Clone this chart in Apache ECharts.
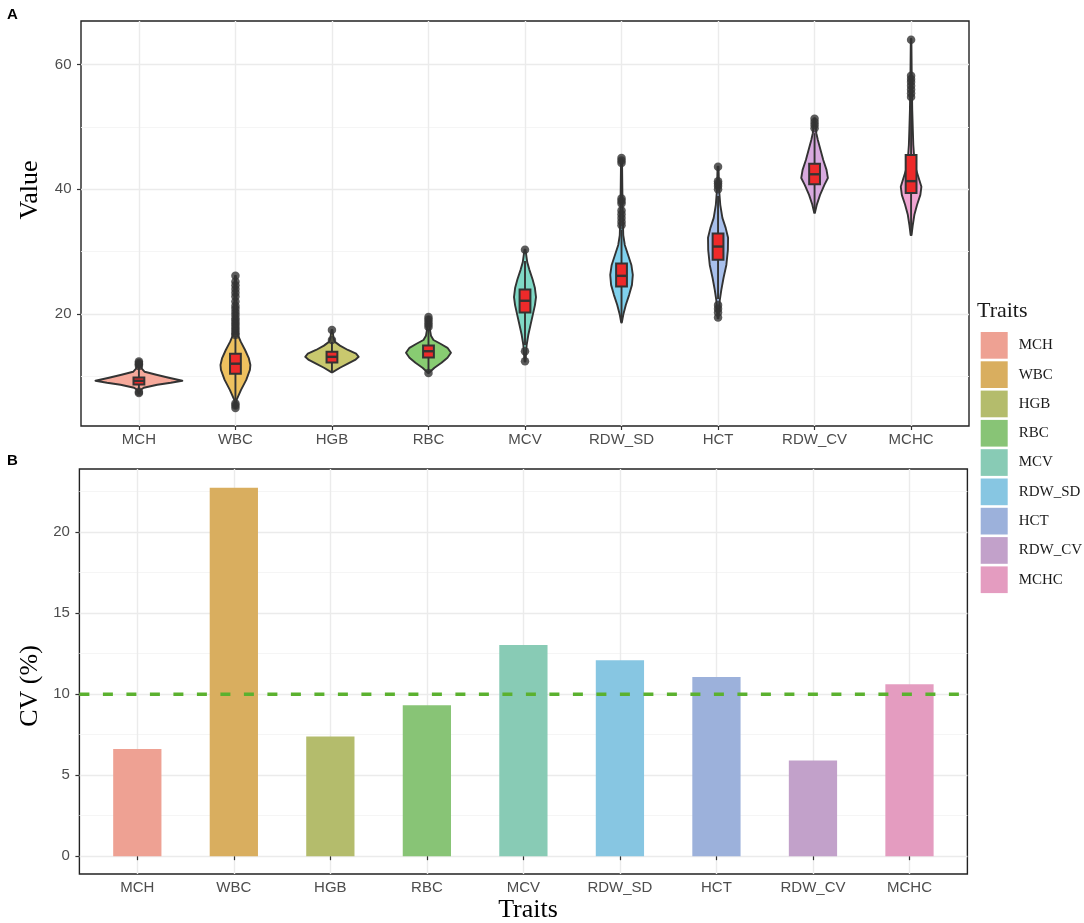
<!DOCTYPE html>
<html><head><meta charset="utf-8">
<script src="https://cdn.jsdelivr.net/npm/echarts@6/dist/echarts.min.js"></script>
<style>html,body{margin:0;padding:0;background:#fff}#c{width:1084px;height:923px}</style>
</head><body><div id="c"></div>
<script>
// ---------- data ----------
const traits = ['MCH','WBC','HGB','RBC','MCV','RDW_SD','HCT','RDW_CV','MCHC'];
const cvPercent = [6.61, 22.75, 7.38, 9.32, 13.03, 12.1, 11.06, 5.91, 10.61];
const cvThreshold = 10;

const barColors = ['#EEA193','#D9AE5F','#B4BC6C','#88C476','#88CBB5','#87C6E2','#9CB1DB','#C2A1CA','#E49CC0'];
const violinColors = ['#F6A99B','#EEC15F','#C9C86E','#88CC72','#7FD9C6','#80D2EE','#A8C0EC','#D8AADF','#F0A5D2'];

// violin outlines: [value, half width in category units]
const violinMCH = [[7.3,0.005],[7.82,0.02],[8.14,0.05],[8.62,0.19],[8.94,0.33],[9.26,0.45],[9.74,0.31],[10.22,0.18],[10.7,0.06],[11.2,0.03],[12.0,0.015],[12.36,0.005]];
const violinWBC = [[4.9,0.005],[6.2,0.012],[7.8,0.058],[9.4,0.112],[11.0,0.15],[11.8,0.155],[12.9,0.138],[14.2,0.1],[15.5,0.056],[16.5,0.028],[19.0,0.017],[22.2,0.011],[26.1,0.005]];
const violinHGB = [[10.6,0.003],[11.35,0.083],[12.0,0.165],[12.6,0.24],[13.1,0.277],[13.6,0.25],[14.2,0.165],[14.9,0.083],[15.5,0.031],[16.15,0.016],[17.4,0.005]];
const violinRBC = [[10.5,0.003],[11.35,0.062],[12.15,0.135],[12.95,0.197],[13.75,0.233],[14.55,0.197],[15.2,0.124],[15.8,0.052],[16.5,0.026],[17.4,0.016],[19.5,0.005]];
const violinMCV = [[12.36,0.005],[15.0,0.017],[16.6,0.034],[18.2,0.057],[19.8,0.08],[21.4,0.103],[22.7,0.114],[24.2,0.102],[25.5,0.079],[27.1,0.045],[28.3,0.023],[30.3,0.005]];
const violinRDW_SD = [[18.6,0.003],[19.85,0.018],[21.45,0.045],[23.05,0.079],[24.65,0.108],[26.25,0.117],[27.85,0.102],[29.45,0.068],[31.05,0.034],[32.65,0.018],[36.7,0.011],[44.9,0.005]];
const violinHCT = [[19.3,0.005],[22.2,0.018],[23.85,0.034],[25.8,0.057],[27.85,0.086],[30.25,0.102],[32.2,0.104],[33.8,0.079],[35.4,0.045],[37.5,0.023],[39.9,0.011],[43.6,0.005]];
const violinRDW_CV = [[36.2,0.003],[37.5,0.023],[39.1,0.057],[40.7,0.102],[41.8,0.138],[43.1,0.124],[44.7,0.09],[46.3,0.062],[47.9,0.034],[49.0,0.018],[51.4,0.005]];
const violinMCHC = [[32.66,0.005],[34.3,0.018],[35.9,0.034],[37.5,0.062],[39.1,0.096],[40.4,0.107],[41.8,0.079],[43.1,0.052],[44.7,0.034],[47.1,0.023],[49.5,0.018],[52.7,0.012],[55.9,0.009],[59.1,0.006],[64.1,0.003]];

// box stats: [lower whisker, Q1, median, Q3, upper whisker]
const boxMCH = [7.9, 8.65, 9.25, 9.8, 11.5];
const boxWBC = [6.2, 10.4, 12.0, 13.6, 16.4];
const boxHGB = [10.7, 12.2, 13.1, 13.9, 15.5];
const boxRBC = [10.5, 13.0, 14.0, 14.9, 17.6];
const boxMCV = [15.0, 20.2, 22.1, 23.9, 28.5];
const boxRDW_SD = [18.7, 24.4, 26.1, 28.1, 33.5];
const boxHCT = [22.4, 28.7, 30.8, 32.9, 38.9];
const boxRDW_CV = [36.3, 40.8, 42.4, 44.1, 49.0];
const boxMCHC = [32.7, 39.4, 41.3, 45.5, 54.3];

// outliers
const outMCH = [11.65, 11.9, 12.1, 12.35, 7.3, 7.5];
const outWBC = [16.6, 16.9, 17.3, 17.7, 18.1, 18.5, 18.9, 19.3, 19.8, 20.3, 20.8, 21.3, 22.0, 22.8, 23.4, 24.0, 24.6, 25.2, 26.1, 4.9, 5.3, 5.6];
const outHGB = [15.8, 17.4];
const outRBC = [17.9, 18.3, 18.7, 19.1, 19.5, 10.5];
const outMCV = [30.3, 14.0, 12.4];
const outRDW_SD = [34.2, 34.8, 35.4, 36.0, 36.6, 37.7, 38.1, 38.5, 44.2, 44.6, 45.0];
const outHCT = [40.0, 40.5, 40.9, 41.3, 43.6, 21.4, 20.8, 20.2, 19.4];
const outRDW_CV = [49.8, 50.3, 50.8, 51.3];
const outMCHC = [54.8, 55.4, 56.0, 56.6, 57.2, 57.7, 58.2, 64.0];

const yTicksA = [20, 40, 60];
const yMinorA = [10, 30, 50];
const yTicksB = [0, 5, 10, 15, 20];
const yMinorB = [2.5, 7.5, 12.5, 17.5, 22.5];

// ---------- assemble ----------
const violins = [violinMCH, violinWBC, violinHGB, violinRBC, violinMCV, violinRDW_SD, violinHCT, violinRDW_CV, violinMCHC];
const boxes = [boxMCH, boxWBC, boxHGB, boxRBC, boxMCV, boxRDW_SD, boxHCT, boxRDW_CV, boxMCHC];
const outs = [outMCH, outWBC, outHGB, outRBC, outMCV, outRDW_SD, outHCT, outRDW_CV, outMCHC];
const xPos = traits.map((t, i) => i + 1);
const outlierData = [];
outs.forEach((arr, i) => arr.forEach(v => outlierData.push([i + 1, v])));

const INK = '#333333';
const tickFont = {fontFamily: 'Liberation Sans, Arial, sans-serif', fontSize: 15, color: '#4D4D4D'};
const serif = 'Liberation Serif, Times New Roman, serif';

function xAxisDef(gridIndex) {
  return {
    type: 'value', gridIndex, min: 0.4, max: 9.6,
    axisLine: {show: false},
    axisTick: {show: true, length: 4, lineStyle: {color: INK, width: 1.2}, customValues: xPos},
    axisLabel: Object.assign({customValues: xPos, margin: 6, formatter: v => traits[Math.round(v) - 1] || ''}, tickFont),
    splitLine: {show: true, lineStyle: {color: '#EBEBEB', width: 1.4}}
  };
}
function yMajor(gridIndex, min, max, ticks) {
  return {
    type: 'value', gridIndex, min, max, position: 'left',
    axisLine: {show: false},
    axisTick: {show: true, length: 4, lineStyle: {color: INK, width: 1.2}, customValues: ticks},
    axisLabel: Object.assign({customValues: ticks, margin: 9.5}, tickFont),
    splitLine: {show: true, lineStyle: {color: '#EBEBEB', width: 1.4}}
  };
}
function yMinor(gridIndex, min, max, ticks) {
  return {
    type: 'value', gridIndex, min, max, position: 'right',
    axisLine: {show: false},
    axisTick: {show: false, customValues: ticks},
    axisLabel: {show: false},
    splitLine: {show: true, lineStyle: {color: '#F4F4F4', width: 0.9}}
  };
}

const chart = echarts.init(document.getElementById('c'), null, {renderer: 'canvas'});

const barSeries = traits.map((t, i) => ({
  type: 'custom', name: t, xAxisIndex: 1, yAxisIndex: 2,
  itemStyle: {color: barColors[i]},
  data: [[xPos[i], cvPercent[i]]],
  renderItem: (params, api) => {
    const x = api.value(0), v = api.value(1);
    const a = api.coord([x - 0.25, v]), b = api.coord([x + 0.25, 0]);
    return {type: 'rect', shape: {x: a[0], y: a[1], width: b[0] - a[0], height: b[1] - a[1]}, style: api.style()};
  }
}));

const option = {
  animation: false,
  backgroundColor: '#ffffff',
  grid: [
    {left: 81, top: 21, width: 888, height: 405, show: true, borderColor: '#222', borderWidth: 1.4, backgroundColor: '#fff', containLabel: false, outerBoundsMode: 'none'},
    {left: 79.4, top: 469, width: 888, height: 405, show: true, borderColor: '#222', borderWidth: 1.4, backgroundColor: '#fff', containLabel: false, outerBoundsMode: 'none'}
  ],
  xAxis: [xAxisDef(0), xAxisDef(1)],
  yAxis: [
    yMajor(0, 2.0, 67.0, yTicksA), yMinor(0, 2.0, 67.0, yMinorA),
    yMajor(1, -1.1, 23.9, yTicksB), yMinor(1, -1.1, 23.9, yMinorB)
  ],
  legend: {
    data: traits, orient: 'vertical', left: 980.7, top: 332,
    itemWidth: 27, itemHeight: 26.7, itemGap: 2.6, icon: 'rect', padding: 0,
    selectedMode: false,
    textStyle: {fontFamily: serif, fontSize: 15, color: '#1A1A1A', padding: [0, 0, 0, 6]}
  },
  graphic: [
    {type: 'text', left: 7, top: 7, style: {text: 'A', font: 'bold 15px Liberation Sans, Arial, sans-serif', fill: '#000'}},
    {type: 'text', left: 7, top: 453.5, style: {text: 'B', font: 'bold 15px Liberation Sans, Arial, sans-serif', fill: '#000'}},
    {type: 'text', left: 977, top: 300, style: {text: 'Traits', font: '22px ' + serif, fill: '#1A1A1A'}},
    {type: 'text', x: 30, y: 190, rotation: Math.PI / 2, style: {text: 'Value', font: '26px ' + serif, fill: '#000', align: 'center', verticalAlign: 'middle'}},
    {type: 'text', x: 30, y: 686, rotation: Math.PI / 2, style: {text: 'CV (%)', font: '26px ' + serif, fill: '#000', align: 'center', verticalAlign: 'middle'}},
    {type: 'text', x: 528, y: 897, style: {text: 'Traits', font: '26px ' + serif, fill: '#000', align: 'center', verticalAlign: 'top'}}
  ],
  series: barSeries.concat([
    {
      type: 'custom', name: 'violin', xAxisIndex: 0, yAxisIndex: 0,
      data: xPos.map(x => [x]),
      renderItem: (params, api) => {
        const i = params.dataIndex;
        const x = api.value(0);
        const prof = violins[i];
        const leftSide = prof.map(p => api.coord([x - p[1], p[0]]));
        const rightSide = prof.slice().reverse().map(p => api.coord([x + p[1], p[0]]));
        const b = boxes[i];
        const bw = 0.056;
        const lo = api.coord([x, b[0]]), q1 = api.coord([x, b[1]]), q3 = api.coord([x, b[3]]), hi = api.coord([x, b[4]]);
        const bl = api.coord([x - bw, b[3]]), br = api.coord([x + bw, b[1]]);
        const ml = api.coord([x - bw, b[2]]), mr = api.coord([x + bw, b[2]]);
        return {type: 'group', children: [
          {type: 'polygon', shape: {points: leftSide.concat(rightSide)}, style: {fill: violinColors[i], stroke: INK, lineWidth: 1.9, lineJoin: 'round'}},
          {type: 'line', shape: {x1: lo[0], y1: lo[1], x2: q1[0], y2: q1[1]}, style: {stroke: INK, lineWidth: 1.9}},
          {type: 'line', shape: {x1: q3[0], y1: q3[1], x2: hi[0], y2: hi[1]}, style: {stroke: INK, lineWidth: 1.9}},
          {type: 'rect', shape: {x: bl[0], y: bl[1], width: br[0] - bl[0], height: br[1] - bl[1]}, style: {fill: '#EE2A2A', stroke: INK, lineWidth: 2}},
          {type: 'line', shape: {x1: ml[0], y1: ml[1], x2: mr[0], y2: mr[1]}, style: {stroke: INK, lineWidth: 2.4}}
        ]};
      }
    },
    {
      type: 'scatter', name: 'outliers', xAxisIndex: 0, yAxisIndex: 0,
      data: outlierData, symbol: 'circle', symbolSize: 8.5,
      itemStyle: {color: INK}
    },
    {
      type: 'line', name: 'threshold', xAxisIndex: 1, yAxisIndex: 2,
      data: [[0.4, cvThreshold], [9.6, cvThreshold]],
      showSymbol: false, symbol: 'none', z: 5,
      lineStyle: {color: '#5BB12F', width: 3.5, type: [10, 13.5]}
    }
  ])
};
chart.setOption(option);
</script>
</body></html>
